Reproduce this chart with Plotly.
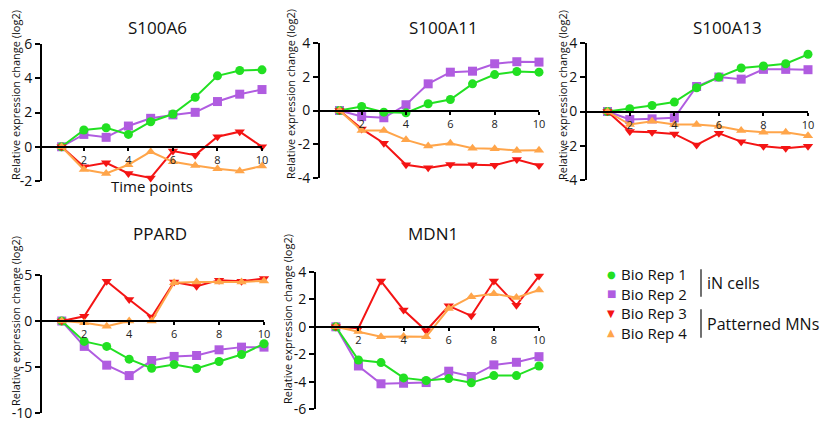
import plotly.graph_objects as go

W, H = 839, 423

time_points = [1, 2, 3, 4, 5, 6, 7, 8, 9, 10]

genes = ["S100A6", "S100A11", "S100A13", "PPARD", "MDN1"]

s100a6_rep1 = [0, 0.98, 1.11, 0.72, 1.46, 1.91, 2.89, 4.14, 4.45, 4.49]
s100a6_rep2 = [0, 0.72, 0.55, 1.21, 1.66, 1.86, 2.01, 2.64, 3.07, 3.34]
s100a6_rep3 = [0, -1.17, -0.94, -1.56, -1.82, -0.25, -0.49, 0.59, 0.88, 0.0]
s100a6_rep4 = [0, -1.33, -1.56, -1.05, -0.29, -0.88, -1.09, -1.29, -1.41, -1.13]

s100a11_rep1 = [0, 0.24, -0.10, -0.14, 0.40, 0.65, 1.58, 2.13, 2.31, 2.27]
s100a11_rep2 = [0, -0.36, -0.43, 0.34, 1.58, 2.27, 2.33, 2.77, 2.89, 2.87]
s100a11_rep3 = [0, -1.09, -1.94, -3.22, -3.40, -3.20, -3.22, -3.24, -2.91, -3.26]
s100a11_rep4 = [0, -1.19, -1.19, -1.74, -2.11, -1.94, -2.23, -2.27, -2.37, -2.35]

s100a13_rep1 = [0, 0.16, 0.35, 0.55, 1.39, 2.01, 2.54, 2.66, 2.79, 3.34]
s100a13_rep2 = [0, -0.47, -0.43, -0.37, 1.46, 2.01, 1.89, 2.46, 2.46, 2.44]
s100a13_rep3 = [0, -1.17, -1.21, -1.31, -1.95, -1.27, -1.76, -2.03, -2.15, -2.03]
s100a13_rep4 = [0, -0.76, -0.57, -0.76, -0.76, -0.86, -1.11, -1.21, -1.21, -1.41]

ppard_rep1 = [0, -2.22, -2.76, -4.15, -5.13, -4.73, -5.16, -4.40, -3.64, -2.47]
ppard_rep2 = [0, -2.76, -4.80, -5.93, -4.29, -3.85, -3.75, -3.13, -2.84, -2.84]
ppard_rep3 = [0, 0.51, 4.33, 2.33, 0.44, 4.25, 3.78, 4.44, 4.33, 4.62]
ppard_rep4 = [0, -0.18, -0.58, 0, 0, 4.15, 4.25, 4.25, 4.25, 4.36]

mdn1_rep1 = [0, -2.42, -2.61, -3.73, -3.92, -3.78, -4.09, -3.56, -3.56, -2.86]
mdn1_rep2 = [0, -2.86, -4.16, -4.12, -4.07, -3.24, -3.63, -2.78, -2.59, -2.18]
mdn1_rep3 = [0, -0.10, 3.34, 1.23, -0.29, 1.53, 0.80, 3.34, 1.57, 3.70]
mdn1_rep4 = [0, -0.34, -0.73, -0.70, -0.73, 1.33, 2.20, 2.42, 2.13, 2.69]

series_names = ["Bio Rep 1", "Bio Rep 2", "Bio Rep 3", "Bio Rep 4"]
group_labels = ["iN cells", "Patterned MNs"]
y_title = "Relative expression change (log2)"
x_title = "Time points"

x_tickvals = [2, 4, 6, 8, 10]
x_ticktext = ["2", "4", "6", "8", "10"]

y_tickvals = [
    [-2, 0, 2, 4, 6],
    [-4, -2, 0, 2, 4],
    [-4, -2, 0, 2, 4],
    [-10, -5, 0, 5],
    [-6, -4, -2, 0, 2, 4],
]
y_ticktext = [
    ["-2", "0", "2", "4", "6"],
    ["-4", "-2", "0", "2", "4"],
    ["-4", "-2", "0", "2", "4"],
    ["-10", "-5", "0", "5"],
    ["-6", "-4", "-2", "0", "2", "4"],
]

data = [
    [s100a6_rep1, s100a6_rep2, s100a6_rep3, s100a6_rep4],
    [s100a11_rep1, s100a11_rep2, s100a11_rep3, s100a11_rep4],
    [s100a13_rep1, s100a13_rep2, s100a13_rep3, s100a13_rep4],
    [ppard_rep1, ppard_rep2, ppard_rep3, ppard_rep4],
    [mdn1_rep1, mdn1_rep2, mdn1_rep3, mdn1_rep4],
]

# ---- styling / layout (pixel geometry) ----
colors = ["#22E022", "#B05CE0", "#F41414", "#FFA54A"]
symbols = ["circle", "square", "triangle-down", "triangle-up"]
glyphs = ["\u25CF", "\u25A0", "\u25BC", "\u25B2"]
FONT = "Open Sans"

# panel boxes: (x_left_px, x_right_px, y_top_px, y_bottom_px, xmin)
panels = [
    (42, 262, 44, 181, 0.12),
    (320, 539, 43, 178, 0.12),
    (587, 808, 43, 180, 0.08),
    (42, 264, 275, 413, 0.12),
    (316, 539, 272, 409, 0.12),
]
yranges = [(-2, 6), (-4, 4), (-4, 4), (-10, 5), (-6, 4)]
title_pos = [(157, 28), (443, 28), (727, 28), (160, 233), (433, 233)]
ytitle_pos = [(15, 95), (290, 94), (562, 95), (15, 321), (287, 319)]


def px(x):
    return x / W


def py(y):
    return 1 - y / H


fig = go.Figure()
draw_order = [1, 0, 2, 3]

for i in range(5):
    n = "" if i == 0 else str(i + 1)
    for k in draw_order:
        fig.add_trace(go.Scatter(
            x=time_points, y=data[i][k], mode="lines+markers",
            name=series_names[k], showlegend=False,
            line=dict(color=colors[k], width=2),
            marker=dict(symbol=symbols[k], size=9, color=colors[k]),
            cliponaxis=False,
            xaxis="x" + n, yaxis="y" + n,
        ))
    xl, xr, yt, yb, xmin = panels[i]
    ylo, yhi = yranges[i]
    y0_frac = py(yb) + (0 - ylo) / (yhi - ylo) * (py(yt) - py(yb))
    fig.update_layout(**{
        "xaxis" + n: dict(
            domain=[px(xl), px(xr)], range=[xmin, 10],
            anchor="free", position=y0_frac, automargin=False,
            showline=True, linecolor="black", linewidth=2,
            ticks="outside", ticklen=3, tickwidth=1.5, tickcolor="black",
            tickvals=x_tickvals, ticktext=x_ticktext,
            tickfont=dict(family=FONT, size=11, color="#222"),
            showgrid=False, zeroline=False,
            title=dict(text=x_title if i == 0 else "",
                       font=dict(family=FONT, size=15, color="#111")),
        ),
        "yaxis" + n: dict(
            domain=[py(yb), py(yt)], range=[ylo, yhi],
            anchor="x" + n, automargin=False,
            showline=True, linecolor="black", linewidth=2,
            ticks="outside", ticklen=5, tickwidth=2, tickcolor="black",
            tickvals=y_tickvals[i], ticktext=y_ticktext[i],
            tickfont=dict(family=FONT, size=14, color="#111"),
            showgrid=False, zeroline=False,
        ),
    })
    tx, ty = title_pos[i]
    fig.add_annotation(x=px(tx), y=py(ty), xref="paper", yref="paper",
                       text=genes[i], showarrow=False,
                       font=dict(family=FONT, size=17, color="#111"),
                       xanchor="center", yanchor="middle")
    yx, yy = ytitle_pos[i]
    fig.add_annotation(x=px(yx), y=py(yy), xref="paper", yref="paper",
                       text=y_title, showarrow=False, textangle=-90,
                       font=dict(family=FONT, size=11, color="#111"),
                       xanchor="center", yanchor="middle", borderpad=0)

# ---- legend ----
LEG_FONT = 15
leg_mid = 303.5
leg_step = LEG_FONT * 1.3
leg_y = [leg_mid + (k - 1.5) * leg_step for k in range(4)]
for k in range(4):
    fig.add_annotation(x=px(611), y=py(leg_y[k]), xref="paper", yref="paper",
                       text=glyphs[k], showarrow=False, borderpad=0,
                       font=dict(family="DejaVu Sans", size=10, color=colors[k]),
                       xanchor="center", yanchor="middle")
fig.add_annotation(x=px(620), y=py(leg_mid), xref="paper", yref="paper",
                   text="<br>".join(series_names), showarrow=False, align="left",
                   borderpad=0,
                   font=dict(family=FONT, size=LEG_FONT, color="#111"),
                   xanchor="left", yanchor="middle")

brackets = [(leg_y[0] - 5, leg_y[1] + 3), (leg_y[2] - 4, leg_y[3] + 5)]
for j, (b0, b1) in enumerate(brackets):
    fig.add_shape(type="line", xref="paper", yref="paper",
                  x0=px(701), x1=px(701), y0=py(b0), y1=py(b1),
                  line=dict(color="#111", width=1.2))
    fig.add_annotation(x=px(706), y=py((b0 + b1) / 2), xref="paper", yref="paper",
                       text=group_labels[j], showarrow=False, borderpad=0,
                       font=dict(family=FONT, size=16, color="#111"),
                       xanchor="left", yanchor="middle")

fig.update_layout(
    width=W, height=H, autosize=False,
    margin=dict(l=0, r=0, t=0, b=0, pad=0, autoexpand=False),
    paper_bgcolor="white", plot_bgcolor="white",
    showlegend=False,
)

fig.write_html(
    "out.html",
    config={"displayModeBar": False},
    post_script="document.body.style.margin='0';document.body.style.overflow='hidden';",
)
